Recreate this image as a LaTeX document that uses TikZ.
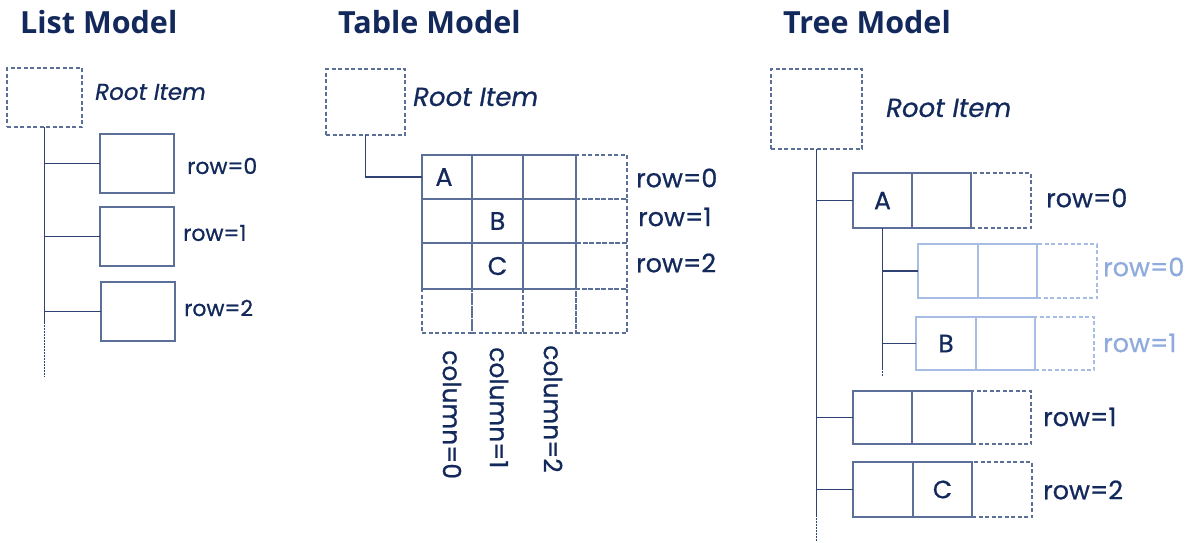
\documentclass[tikz,border=0pt]{standalone}
\usepackage{fontspec}
\setmainfont{Poppins}[FakeBold=0.7]
\newfontfamily\headfont{Open Sans}
\newfontfamily\labfont{Poppins}[FakeBold=0.7]
\definecolor{ink}{HTML}{13295B}
\definecolor{edge}{HTML}{5B6F98}
\definecolor{wirec}{HTML}{2E4373}
\definecolor{pale}{HTML}{8FAADC}
\definecolor{paleedge}{HTML}{A7BDE4}
\begin{document}
\begin{tikzpicture}[x=1pt,y=-1pt,
  box/.style={draw=edge, line width=1.1pt, inner sep=0pt, outer sep=0pt, anchor=north west,
    text=ink, font=\labfont\fontsize{24}{24}\selectfont},
  ghost/.style={box, dash pattern=on 4pt off 2.5pt},
  palebox/.style={box, draw=paleedge},
  paleghost/.style={ghost, draw=paleedge},
  wire/.style={draw=wirec, line width=1.1pt},
  dotwire/.style={wire, dash pattern=on 1.5pt off 1.5pt},
  title/.style={anchor=west, inner sep=0pt, text=ink, font=\headfont\bfseries\fontsize{30.5}{30.5}\selectfont},
  rootlab/.style={anchor=west, inner sep=0pt, text=ink, font=\itshape\fontsize{23}{23}\selectfont},
  lab/.style={anchor=west, inner sep=0pt, text=ink, font=\labfont\fontsize{22}{22}\selectfont},
  biglab/.style={lab, font=\labfont\fontsize{25.5}{25.5}\selectfont},
  palelab/.style={biglab, text=pale},
  collab/.style={lab, rotate=-90, font=\labfont\fontsize{25}{25}\selectfont}]
\useasboundingbox (0,0) rectangle (1192,542);

% headings
\node[title] (h1) at (20,22) {List Model};
\node[title] (h2) at (338,22) {Table Model};
\node[title] (h3) at (783,22) {Tree Model};

% ---------- list model ----------
\node[ghost, minimum width=75pt, minimum height=59pt] (lroot) at (7,68) {};
\node[rootlab] (lrl) at (95,92) {Root Item};
\node[box, minimum width=74pt, minimum height=59pt] (l0) at (100,134) {};
\node[box, minimum width=74pt, minimum height=59pt] (l1) at (100,207) {};
\node[box, minimum width=74pt, minimum height=59pt] (l2) at (101,282) {};
\node[lab] (l0t) at (187,166) {row=0};
\node[lab] (l1t) at (183,233) {row=1};
\node[lab] (l2t) at (184,308) {row=2};
\coordinate (lmid) at (44.5,322);
\coordinate (lend) at (44.5,377);
\draw[wire] (lroot.south) -- (lmid);
\draw[dotwire] (lmid) -- (lend);
\foreach \n in {l0,l1,l2} \draw[wire] (lroot.south |- \n.west) -- (\n.west);

% ---------- table model ----------
\node[ghost, minimum width=79pt, minimum height=66pt] (troot) at (326,69) {};
\node[rootlab, font=\itshape\fontsize{26}{26}\selectfont] (trl) at (413,97) {Root Item};
% spare column and spare row
\foreach \r/\y/\h in {0/155/44,1/199/44,2/243/46}
  \node[ghost, minimum width=51pt, minimum height=\h pt] (c\r3) at (576,\y) {};
\foreach \c/\x/\w in {0/422/50,1/472/51,2/523/53,3/576/51}
  \node[ghost, minimum width=\w pt, minimum height=44pt] (c3\c) at (\x,289) {};
% filled cells
\foreach \r/\y/\h in {0/155/44,1/199/44,2/243/46}
  \foreach \c/\x/\w in {0/422/50,1/472/51,2/523/53}
    \node[box, minimum width=\w pt, minimum height=\h pt] (c\r\c) at (\x,\y) {};
\node[biglab, anchor=center] (ta) at ([xshift=-3pt]c00.center) {A};
\node[biglab, anchor=center] (tb) at (c11.center) {B};
\node[biglab, anchor=center] (tc) at (c21.center) {C};
\draw[wire] (troot.south) -- (troot.south |- c00.west) -- (c00.west);
\node[biglab] (r0t) at (636,178) {row=0};
\node[biglab] (r1t) at (638,217) {row=1};
\node[biglab] (r2t) at (636,263) {row=2};
\node[collab] (k0) at (452,350) {column=0};
\node[collab] (k1) at (499,347) {column=1};
\node[collab] (k2) at (553,345) {column=2};

% ---------- tree model ----------
\node[ghost, minimum width=91pt, minimum height=80pt] (eroot) at (771,69) {};
\node[rootlab, font=\itshape\fontsize{26}{26}\selectfont] (erl) at (886,108) {Root Item};
% top-level row 0 with child rows
\node[ghost, minimum width=60pt, minimum height=55pt] (ea3) at (971,173) {};
\node[box, minimum width=59pt, minimum height=55pt, font=\labfont\fontsize{25}{25}\selectfont] (ea1) at (853,173) {A};
\node[box, minimum width=59pt, minimum height=55pt] (ea2) at (912,173) {};
\node[biglab] (eat) at (1046,198) {row=0};
\node[paleghost, minimum width=60pt, minimum height=54pt] (ec3) at (1037,244) {};
\node[palebox, minimum width=60pt, minimum height=54pt] (ec1) at (918,244) {};
\node[palebox, minimum width=59pt, minimum height=54pt] (ec2) at (978,244) {};
\node[palelab] (ect) at (1103,267) {row=0};
\node[paleghost, minimum width=59pt, minimum height=53pt] (ed3) at (1035,317) {};
\node[palebox, minimum width=60pt, minimum height=53pt, font=\labfont\fontsize{25}{25}\selectfont] (ed1) at (916,317) {B};
\node[palebox, minimum width=59pt, minimum height=53pt] (ed2) at (976,317) {};
\node[palelab] (edt) at (1103,343) {row=1};
% top-level rows 1 and 2
\node[ghost, minimum width=59pt, minimum height=53pt] (eb3) at (972,391) {};
\node[box, minimum width=59pt, minimum height=53pt] (eb1) at (853,391) {};
\node[box, minimum width=60pt, minimum height=53pt] (eb2) at (912,391) {};
\node[biglab] (ebt) at (1043,417) {row=1};
\node[ghost, minimum width=60pt, minimum height=55pt] (ee3) at (972,462) {};
\node[box, minimum width=60pt, minimum height=55pt] (ee1) at (853,462) {};
\node[box, minimum width=59pt, minimum height=55pt, font=\labfont\fontsize{25}{25}\selectfont] (ee2) at (913,462) {C};
\node[biglab] (eet) at (1043,490) {row=2};
% tree connectors
\coordinate (emid) at (816.5,515);
\coordinate (eend) at (816.5,542);
\draw[wire] (eroot.south) -- (emid);
\draw[dotwire] (emid) -- (eend);
\foreach \n in {ea1,eb1,ee1} \draw[wire] (eroot.south |- \n.west) -- (\n.west);
\coordinate (smid) at (882.5,368);
\coordinate (send) at (882.5,376);
\draw[wire] (ea1.south) -- (smid);
\draw[dotwire] (smid) -- (send);
\foreach \n in {ec1,ed1} \draw[wire] (ea1.south |- \n.west) -- (\n.west);
\end{tikzpicture}
\end{document}
